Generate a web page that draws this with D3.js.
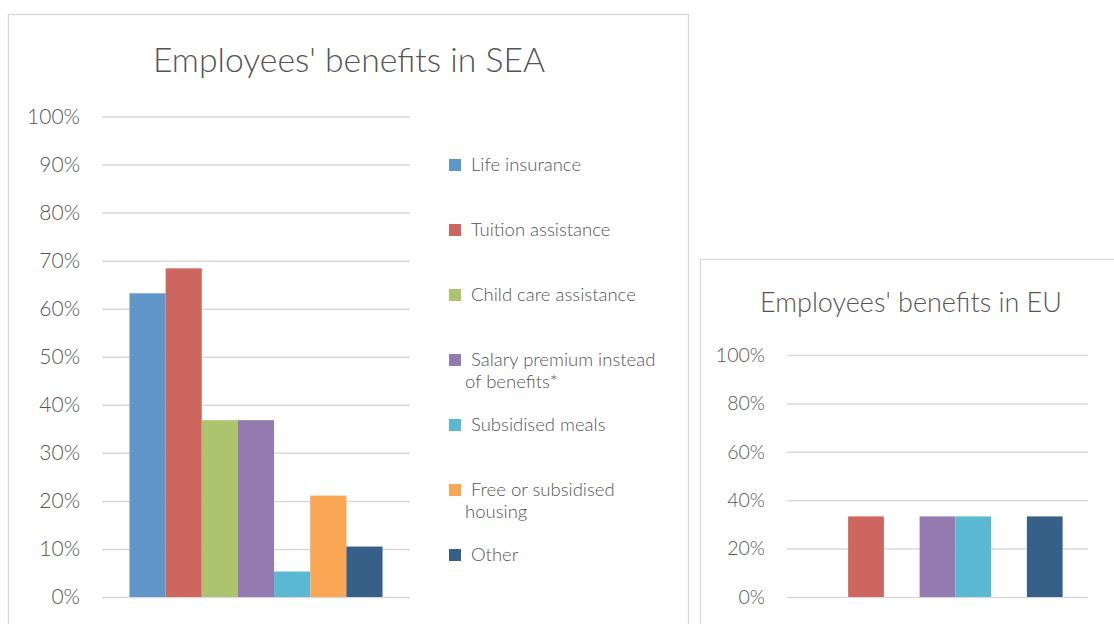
<!DOCTYPE html>
<html><head><meta charset="utf-8">
<script src="https://cdn.jsdelivr.net/npm/d3@7"></script>
<style>
html,body{margin:0;padding:0;background:#fff;overflow:hidden}
svg{display:block;font-family:Lato,"Open Sans",sans-serif}
</style></head>
<body>
<svg id="c" width="1114" height="624"></svg>
<script>
const categories = ["Life insurance","Tuition assistance","Child care assistance","Salary premium instead of benefits*","Subsidised meals","Free or subsidised housing","Other"];
const legendLines = [["Life insurance"],["Tuition assistance"],["Child care assistance"],["Salary premium instead","of benefits*"],["Subsidised meals"],["Free or subsidised","housing"],["Other"]];
const colors = ["#5f96c9","#cc665e","#abc46d","#937ab1","#5bb8d3","#f9a655","#366087"];
const seaValues = [0.632,0.684,0.368,0.368,0.053,0.211,0.105];
const euValues = [0,0.333,0,0.333,0.333,0,0.333];
const seaTicks = [0,0.1,0.2,0.3,0.4,0.5,0.6,0.7,0.8,0.9,1.0];
const euTicks = [0,0.2,0.4,0.6,0.8,1.0];

const svg = d3.select("#c");
const txt = "#555555", grid = "#d9d9d9";

// panels
svg.append("rect").attr("x",8.5).attr("y",14.5).attr("width",680).attr("height",640)
  .attr("fill","#fff").attr("stroke",grid).attr("stroke-width",1.3);
svg.append("rect").attr("x",700.5).attr("y",259.5).attr("width",440).attr("height",400)
  .attr("fill","#fff").attr("stroke",grid).attr("stroke-width",1.3);

function drawChart(o){
  const g = svg.append("g");
  const y = d3.scaleLinear().domain([0,1]).range([o.y0,o.y1]);
  const x = d3.scaleBand().domain(categories).range([o.x0,o.x1]).paddingInner(0).paddingOuter(o.pad);
  const ax = d3.axisLeft(y).tickValues(o.ticks).tickFormat(d3.format(".0%")).tickSize(-(o.x1-o.x0)).tickPadding(o.tp);
  const a = g.append("g").attr("transform",`translate(${o.x0},0)`).call(ax);
  a.select(".domain").remove();
  a.selectAll(".tick line").attr("stroke",grid).attr("stroke-width",1.5);
  a.selectAll(".tick text").attr("fill",txt).attr("font-size",o.fs).attr("font-weight",300).attr("font-family","Lato,sans-serif");
  g.selectAll("rect.bar").data(o.values).join("rect").attr("class","bar")
    .attr("x",(d,i)=>x(categories[i])).attr("width",x.bandwidth())
    .attr("y",d=>y(d)).attr("height",d=>y(0)-y(d))
    .attr("fill",(d,i)=>colors[i]);
  g.append("text").attr("x",o.tx).attr("y",o.ty).attr("text-anchor","middle")
    .attr("fill",txt).attr("font-size",o.tfs).attr("font-weight",300).text(o.title);
}

drawChart({x0:102,x1:410,y0:597,y1:116.5,pad:0.76,values:seaValues,ticks:seaTicks,fs:21,tp:22,
  title:"Employees' benefits in SEA",tx:349,ty:72,tfs:33.7});
drawChart({x0:787,x1:1088,y0:597,y1:355,pad:0.71,values:euValues,ticks:euTicks,fs:19.5,tp:22,
  title:"Employees' benefits in EU",tx:911,ty:312,tfs:27});

// legend
const lg = svg.append("g");
legendLines.forEach((lines,i)=>{
  const cy = 165 + i*65;
  lg.append("rect").attr("x",449).attr("y",cy-6).attr("width",12).attr("height",12).attr("fill",colors[i]);
  lines.forEach((s,j)=>{
    lg.append("text").attr("x",j===0?471:465).attr("y",cy+6+j*22)
      .attr("fill",txt).attr("font-size",18.5).attr("font-weight",300).text(s);
  });
});
</script>
</body></html>
